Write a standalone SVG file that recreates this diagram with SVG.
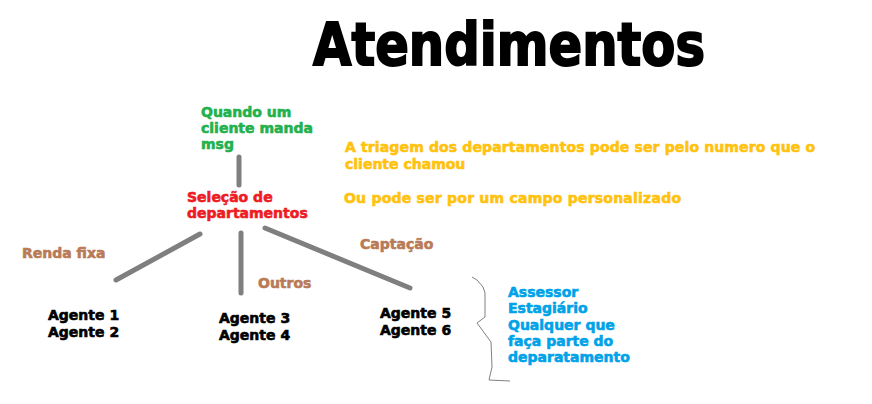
<svg xmlns="http://www.w3.org/2000/svg" width="872" height="404" viewBox="0 0 872 404">
<style>
text{font-family:"DejaVu Sans","Liberation Sans",sans-serif;font-weight:bold;font-size:14px;stroke-width:0.6}
.title{font-size:59px;font-weight:900;fill:#000;stroke:#000;stroke-width:2}
.green{fill:#22B14C;stroke:#22B14C}.red{fill:#ED1C24;stroke:#ED1C24}.orange{fill:#FFC20E;stroke:#FFC20E}.brown{fill:#B97A57;stroke:#B97A57}.blue{fill:#00A2E8;stroke:#00A2E8}.black{fill:#000;stroke:#000}
.conn{stroke:#7F7F7F;stroke-width:5;fill:none;stroke-linecap:round}
</style>
<rect width="872" height="404" fill="#fff"/>
<g id="title"><text class="title" x="313" y="65" textLength="392" lengthAdjust="spacingAndGlyphs">Atendimentos</text></g>
<g id="trigger" class="green">
<text x="201" y="117">Quando um</text>
<text x="201" y="133">cliente manda</text>
<text x="201" y="149">msg</text>
</g>
<g id="selecao" class="red">
<text x="187" y="202">Seleção de</text>
<text x="187" y="218">departamentos</text>
</g>
<g id="nota" class="orange">
<text x="345" y="152" textLength="470">A triagem dos departamentos pode ser pelo numero que o</text>
<text x="345" y="169">cliente chamou</text>
<text x="344" y="203" textLength="337">Ou pode ser por um campo personalizado</text>
</g>
<g id="connectors">
<line class="conn" x1="239" y1="157" x2="239" y2="185"/>
<line class="conn" x1="200" y1="234" x2="116" y2="280"/>
<line class="conn" x1="241" y1="233" x2="241" y2="293"/>
<line class="conn" x1="265" y1="228" x2="410" y2="288"/>
</g>
<g id="labels" class="brown">
<text x="22" y="258">Renda fixa</text>
<text x="258" y="288">Outros</text>
<text x="360" y="249">Captação</text>
</g>
<g id="grupo1" class="black">
<text x="48" y="320">Agente 1</text>
<text x="48" y="337">Agente 2</text>
</g>
<g id="grupo2" class="black">
<text x="219" y="323">Agente 3</text>
<text x="219" y="340">Agente 4</text>
</g>
<g id="grupo3" class="black">
<text x="380" y="318">Agente 5</text>
<text x="380" y="335">Agente 6</text>
</g>
<g id="chave">
<path d="M472,277 L477,280 L483,287 L485,293 L485,317 L477,323 L480,327 L491,342 L492,367 L489,380 L510,381" fill="none" stroke="#808080" stroke-width="1"/>
</g>
<g id="funcoes" class="blue">
<text x="508" y="297">Assessor</text>
<text x="508" y="313">Estagiário</text>
<text x="508" y="330">Qualquer que</text>
<text x="508" y="346">faça parte do</text>
<text x="508" y="362">deparatamento</text>
</g>
</svg>
